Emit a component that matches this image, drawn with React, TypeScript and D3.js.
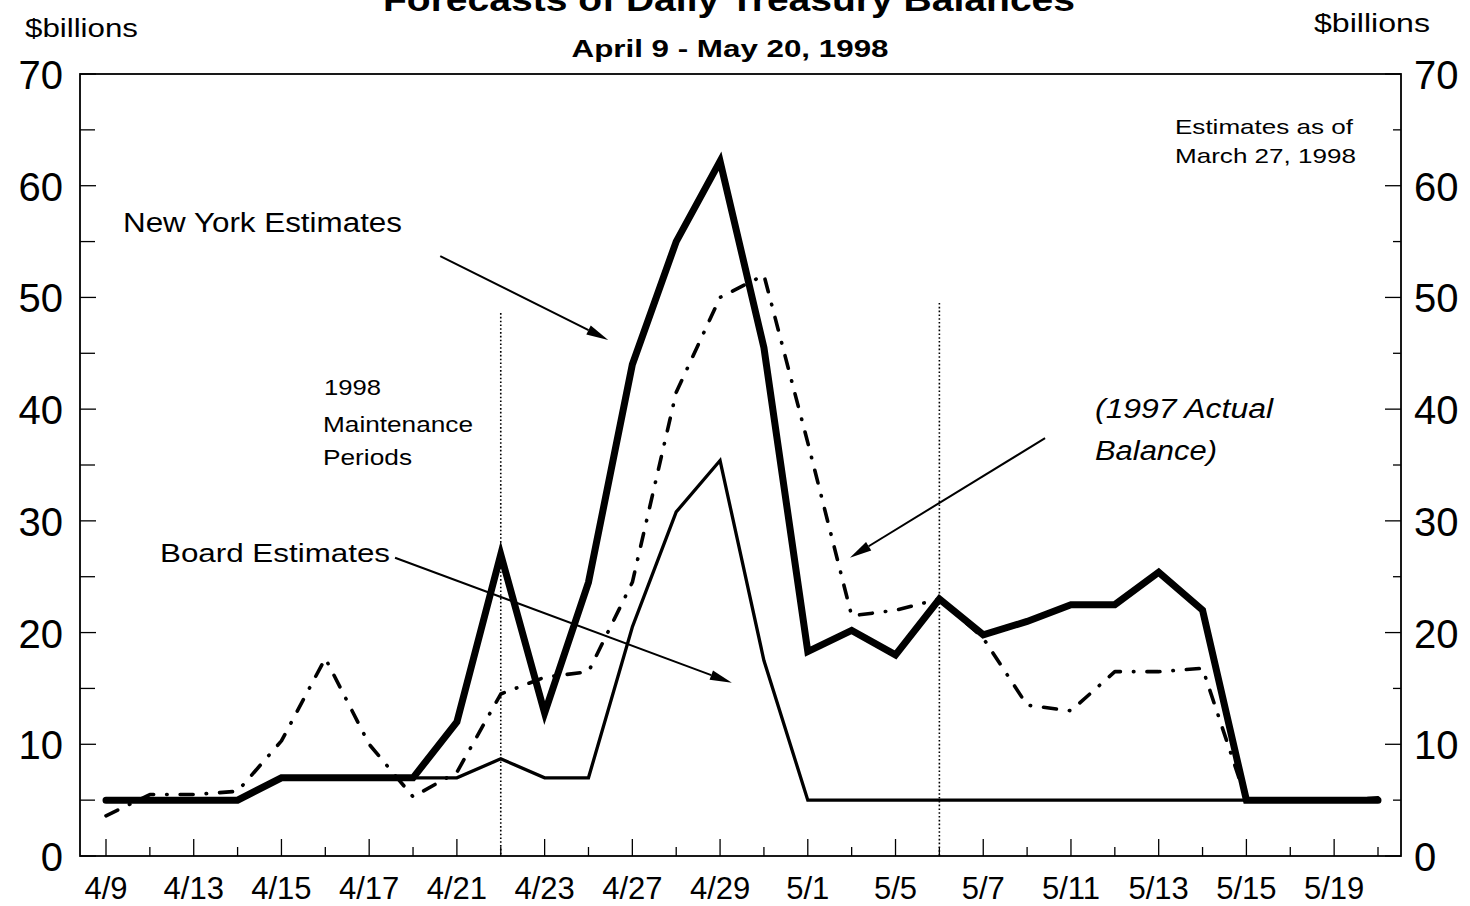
import React from 'react';
import * as d3 from 'd3';

const dates = ['4/9','4/10','4/13','4/14','4/15','4/16','4/17','4/20','4/21','4/22','4/23','4/24','4/27','4/28','4/29','4/30','5/1','5/4','5/5','5/6','5/7','5/8','5/11','5/12','5/13','5/14','5/15','5/18','5/19','5/20'];
const newYork = [5,5,5,5,7,7,7,7,12,27,12.8,24.5,44,55,62.2,45.5,18.3,20.2,18,23,19.8,21,22.5,22.5,25.4,22,5,5,5,5];
const board = [5,5,5,5,7,7,7,7,7,8.7,7,7,20.5,30.8,35.4,17.5,5,5,5,5,5,5,5,5,5,5,5,5,5,5];
const actual1997 = [3.6,5.5,5.5,5.8,10.3,17.7,10,5.3,7.5,14.5,16,16.5,24.5,41.5,50,52,37,21.5,22,23,19.5,13.5,13,16.5,16.5,16.8,5,5,5,5.2];
const yLabels = [0,10,20,30,40,50,60,70];
const yMinor = [5,15,25,35,45,55,65];
const maintenanceEnds = [9, 19];
const maintenanceTop = [48.6, 49.5];

const FONT = 'Liberation Sans, Arial, Helvetica, sans-serif';

export default function App() {
  const x = d3.scaleLinear().domain([0, dates.length - 1]).range([106, 1378]);
  const y = d3.scaleLinear().domain([0, 70]).range([856, 74]);
  const mk = (vals: number[]) => d3.line<number>().x((_, i) => x(i)).y(d => y(d))(vals) || '';
  const left = 80, right = 1401, top = y(70), bottom = y(0);

  const arrow = (a: [number, number], b: [number, number], key: string) => {
    const x1 = x(a[0]), y1 = y(a[1]), x2 = x(b[0]), y2 = y(b[1]);
    const ang = Math.atan2(y2 - y1, x2 - x1);
    const L = 22, hw = 5;
    const bx = x2 - L * Math.cos(ang), by = y2 - L * Math.sin(ang);
    const px = -Math.sin(ang) * hw, py = Math.cos(ang) * hw;
    return (
      <g key={key}>
        <line x1={x1} y1={y1} x2={bx} y2={by} stroke="#000" strokeWidth={2} />
        <polygon points={`${x2},${y2} ${bx + px},${by + py} ${bx - px},${by - py}`} fill="#000" />
      </g>
    );
  };

  return (
    <svg width={1470} height={906} style={{ position: 'absolute', left: 0, top: 0, background: '#fff' }} fontFamily={FONT}>
      <rect x={0} y={0} width={1470} height={906} fill="#fff" />
      <text x={729} y={11} textAnchor="middle" fontSize={34} fontWeight="bold" textLength={692} lengthAdjust="spacingAndGlyphs">Forecasts of Daily Treasury Balances</text>
      <text x={730} y={57} textAnchor="middle" fontSize={24} fontWeight="bold" textLength={317} lengthAdjust="spacingAndGlyphs">April 9 - May 20, 1998</text>
      <text x={25} y={37} fontSize={26} textLength={113} lengthAdjust="spacingAndGlyphs">$billions</text>
      <text x={1314} y={32} fontSize={26} textLength={116} lengthAdjust="spacingAndGlyphs">$billions</text>

      {/* frame */}
      <rect x={left} y={top} width={right - left} height={bottom - top} fill="none" stroke="#000" strokeWidth={1.8} />

      {/* y ticks */}
      {yLabels.map(v => (
        <g key={'yl' + v}>
          <line x1={left} x2={left + 16} y1={y(v)} y2={y(v)} stroke="#000" strokeWidth={1.3} />
          <line x1={right - 16} x2={right} y1={y(v)} y2={y(v)} stroke="#000" strokeWidth={1.3} />
          <text x={63} y={y(v) + 15} textAnchor="end" fontSize={40}>{v}</text>
          <text x={1414} y={y(v) + 15} textAnchor="start" fontSize={40}>{v}</text>
        </g>
      ))}
      {yMinor.map(v => (
        <g key={'ym' + v}>
          <line x1={left} x2={left + 15} y1={y(v)} y2={y(v)} stroke="#000" strokeWidth={1.3} />
          <line x1={right - 8} x2={right} y1={y(v)} y2={y(v)} stroke="#000" strokeWidth={1.3} />
        </g>
      ))}

      {/* x ticks */}
      {dates.map((d, i) => (
        <g key={'xt' + i}>
          <line x1={x(i)} x2={x(i)} y1={bottom} y2={bottom - (i % 2 === 0 ? 17 : 9)} stroke="#000" strokeWidth={1.3} />
          {i % 2 === 0 && i < dates.length - 1 ? (
            <text x={x(i)} y={899} textAnchor="middle" fontSize={31}>{d}</text>
          ) : null}
        </g>
      ))}

      {/* maintenance period lines */}
      {maintenanceEnds.map((m, k) => (
        <line key={'mp' + k} x1={x(m)} x2={x(m)} y1={y(maintenanceTop[k])} y2={bottom} stroke="#000" strokeWidth={1.6} strokeDasharray="1.6,2.2" />
      ))}

      {/* series */}
      <path d={mk(actual1997)} fill="none" stroke="#000" strokeWidth={3.6} strokeDasharray="13,13,0.5,13" strokeLinecap="round" strokeLinejoin="round" />
      <path d={mk(board)} fill="none" stroke="#000" strokeWidth={3.3} strokeLinejoin="miter" />
      <path d={mk(newYork)} fill="none" stroke="#000" strokeWidth={7} strokeLinejoin="miter" strokeLinecap="round" />

      {/* annotations */}
      <text x={123} y={232} fontSize={27} textLength={279} lengthAdjust="spacingAndGlyphs">New York Estimates</text>
      {arrow([7.62, 53.7], [11.45, 46.2], 'a1')}
      <text x={324} y={395} fontSize={22} textLength={57} lengthAdjust="spacingAndGlyphs">1998</text>
      <text x={323} y={432} fontSize={22} textLength={150} lengthAdjust="spacingAndGlyphs">Maintenance</text>
      <text x={323} y={465} fontSize={22} textLength={89} lengthAdjust="spacingAndGlyphs">Periods</text>
      <text x={160} y={562} fontSize={26} textLength={230} lengthAdjust="spacingAndGlyphs">Board Estimates</text>
      {arrow([6.59, 26.7], [14.27, 15.5], 'a2')}
      <text x={1095} y={418} fontSize={27} fontStyle="italic" textLength={178} lengthAdjust="spacingAndGlyphs">(1997 Actual</text>
      <text x={1095} y={460} fontSize={27} fontStyle="italic" textLength={122} lengthAdjust="spacingAndGlyphs">Balance)</text>
      {arrow([21.41, 37.4], [16.96, 26.7], 'a3')}
      <text x={1175} y={134} fontSize={21} textLength={178} lengthAdjust="spacingAndGlyphs">Estimates as of</text>
      <text x={1175} y={163} fontSize={21} textLength={181} lengthAdjust="spacingAndGlyphs">March 27, 1998</text>
    </svg>
  );
}
